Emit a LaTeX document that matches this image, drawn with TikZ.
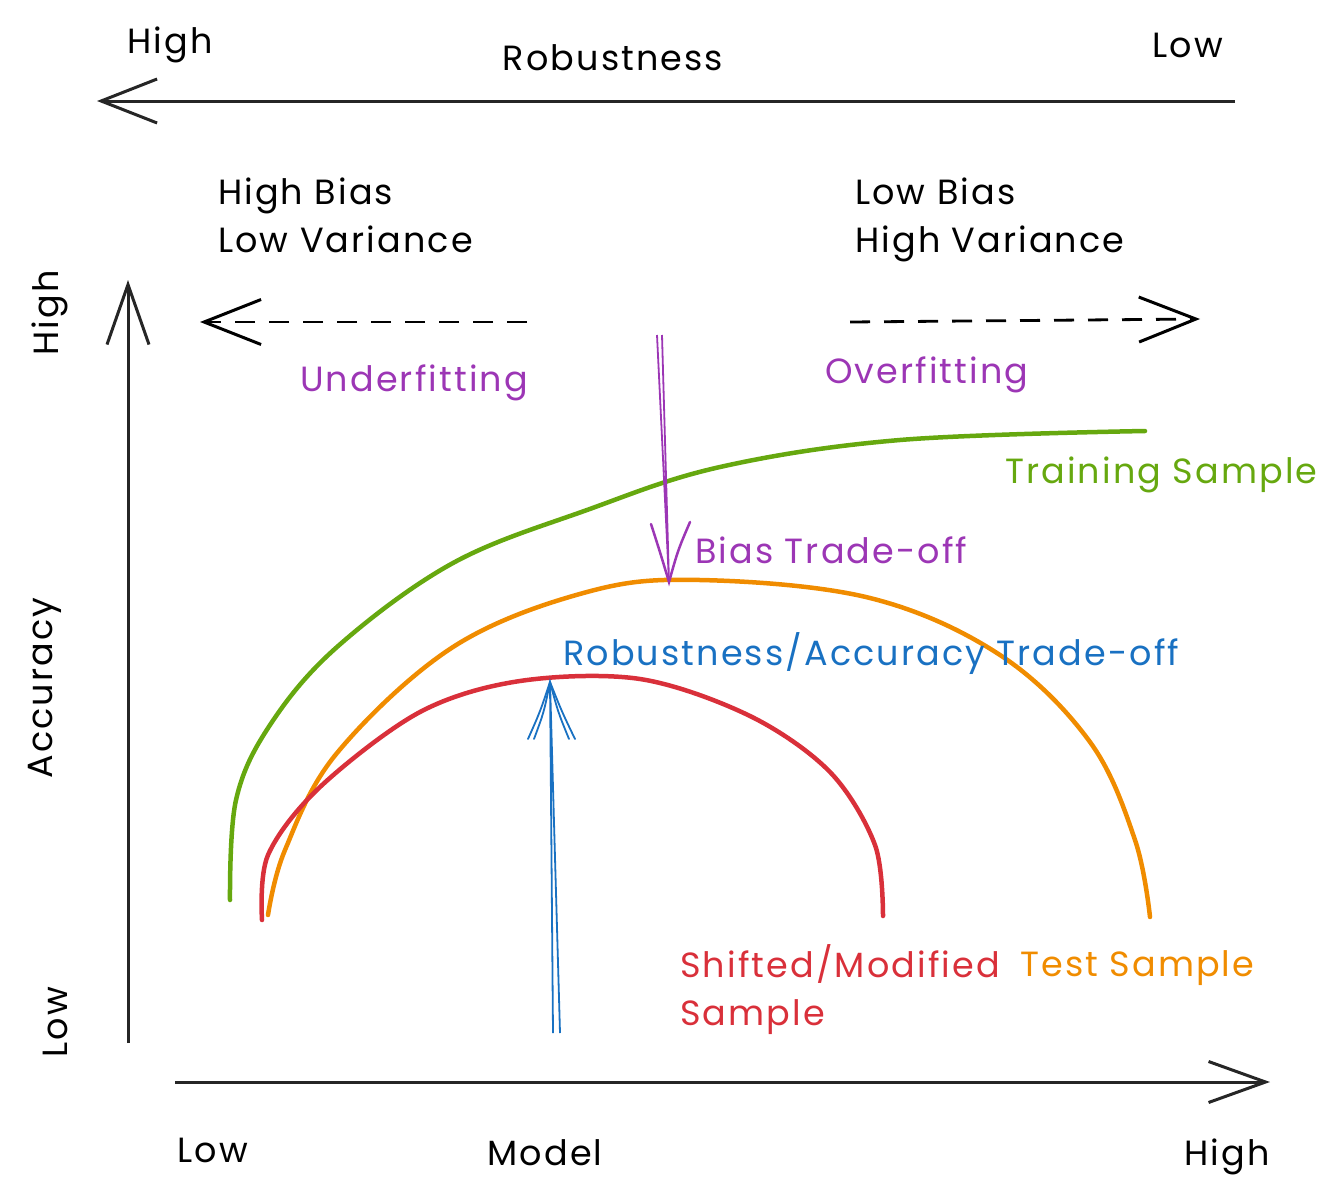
\documentclass[tikz,border=0pt]{standalone}
\usepackage{fontspec}
\setmainfont{Poppins}[LetterSpace=6]
\usetikzlibrary{arrows.meta}
\definecolor{cgreen}{HTML}{66A80F}
\definecolor{corange}{HTML}{F08C00}
\definecolor{cred}{HTML}{D9303A}
\definecolor{cpurple}{HTML}{9C36B5}
\definecolor{cblue}{HTML}{1971C2}
\tikzset{
  lbl/.style={font=\fontsize{35}{48}\selectfont, inner sep=0pt},
  axis/.style={line width=3pt, draw=black!85},
  curve/.style={line width=4.5pt, line cap=round, line join=round},
  barb/.style={-{Straight Barb[length=56pt,width=44pt,line width=3pt]}},
}
\begin{document}
\begin{tikzpicture}[x=1pt,y=-1pt]
\useasboundingbox (0,0) rectangle (1325,1199);
% top robustness axis
\coordinate (ra) at (1235,101);
\coordinate (rb) at (97,101);
\draw[axis, barb] (ra) -- (rb);
\node[lbl] (rhigh) at (170,45) {High};
\node[lbl] (rob) at (613,58) {Robustness};
\node[lbl] (rlow) at (1188,45) {Low};
% bias/variance labels
\node[lbl, anchor=base west] (hb1) at (218,204) {High Bias};
\node[lbl, anchor=base west] (hb2) at (218,252) {Low Variance};
\node[lbl, anchor=base west] (lb1) at (855,204) {Low Bias};
\node[lbl, anchor=base west] (lb2) at (855,252) {High Variance};
% y axis
\coordinate (ya) at (128,1043);
\coordinate (yb) at (128,280);
\draw[axis, -{Straight Barb[length=60pt,width=42pt,line width=3pt]}] (ya) -- (yb);
\node[lbl, rotate=90] (yhigh) at (50,313) {High};
\node[lbl, rotate=90] (yacc) at (45,688) {Accuracy};
\node[lbl, rotate=90] (ylow) at (55,1022) {Low};
% x axis
\coordinate (xa) at (175,1082);
\coordinate (xb) at (1270,1082);
\draw[axis, -{Straight Barb[length=57pt,width=41pt,line width=3pt]}] (xa) -- (xb);
\node[lbl] (xlow) at (213,1150) {Low};
\node[lbl] (xmod) at (545,1153) {Model};
\node[lbl] (xhigh) at (1227,1157) {High};
% dashed arrows
\coordinate (ua) at (527,322);
\coordinate (ub) at (200,322);
\draw[line width=2.8pt, dash pattern=on 20pt off 14pt, -{Straight Barb[length=57pt,width=45pt,line width=3pt]}] (ua) -- (ub);
\node[lbl, text=cpurple, anchor=west] (under) at (300,383) {Underfitting};
\coordinate (oa) at (850,322);
\coordinate (ob) at (1200,319);
\draw[line width=2.8pt, dash pattern=on 20pt off 14pt, -{Straight Barb[length=57pt,width=45pt,line width=3pt]}] (oa) -- (ob);
\node[lbl, text=cpurple, anchor=west] (over) at (825,375) {Overfitting};
% curves
\draw[curve, cgreen] plot[smooth, tension=0.6] coordinates {(230,900) (236,800) (270,725) (337,647) (453,563) (587,510) (720,467) (900,440) (1145,431)};
\draw[curve, corange] plot[smooth, tension=0.6] coordinates {(268,915) (285,850) (337,753) (453,647) (587,592) (700,580) (870,598) (1000,655) (1090,742) (1135,840) (1150,917)};
\draw[curve, cred] plot[smooth, tension=0.55] coordinates {(262,920) (268,855) (320,787) (420,712) (520,681) (640,679) (750,716) (830,772) (875,845) (883,916)};
\node[lbl, text=cgreen, anchor=west] (train) at (1005,475) {Training Sample};
\node[lbl, text=corange, anchor=west] (test) at (1020,968) {Test Sample};
\node[lbl, text=cred, anchor=base west] (shift1) at (680,977) {Shifted/Modified};
\node[lbl, text=cred, anchor=base west] (shift2) at (680,1025) {Sample};
% purple bias trade-off arrow
\coordinate (pt) at (669,582);
\coordinate (p1) at (657,335);
\coordinate (p2) at (662,335);
\draw[cpurple, line width=1.8pt] (p1) -- (pt) (p2) -- (pt);
\draw[cpurple, line width=2.5pt, line cap=round] (651,524) .. controls (660,552) .. (pt) .. controls (678,550) .. (690,522);
\node[lbl, text=cpurple, anchor=west] (bias) at (695,550) {Bias Trade-off};
% blue robustness trade-off arrow
\coordinate (bt) at (550,682);
\coordinate (b1) at (553,1033);
\coordinate (b2) at (560,1033);
\draw[cblue, line width=1.8pt] (b1) -- (bt) (b2) -- (bt);
\draw[cblue, line width=1.8pt, line cap=round] (528,739) .. controls (540,712) .. (bt) .. controls (562,712) .. (575,739);
\draw[cblue, line width=1.8pt, line cap=round] (534,739) .. controls (544,712) .. (bt) .. controls (558,712) .. (569,739);
\node[lbl, text=cblue, anchor=west] (rat) at (563,654) {Robustness/Accuracy Trade-off};
\end{tikzpicture}
\end{document}
